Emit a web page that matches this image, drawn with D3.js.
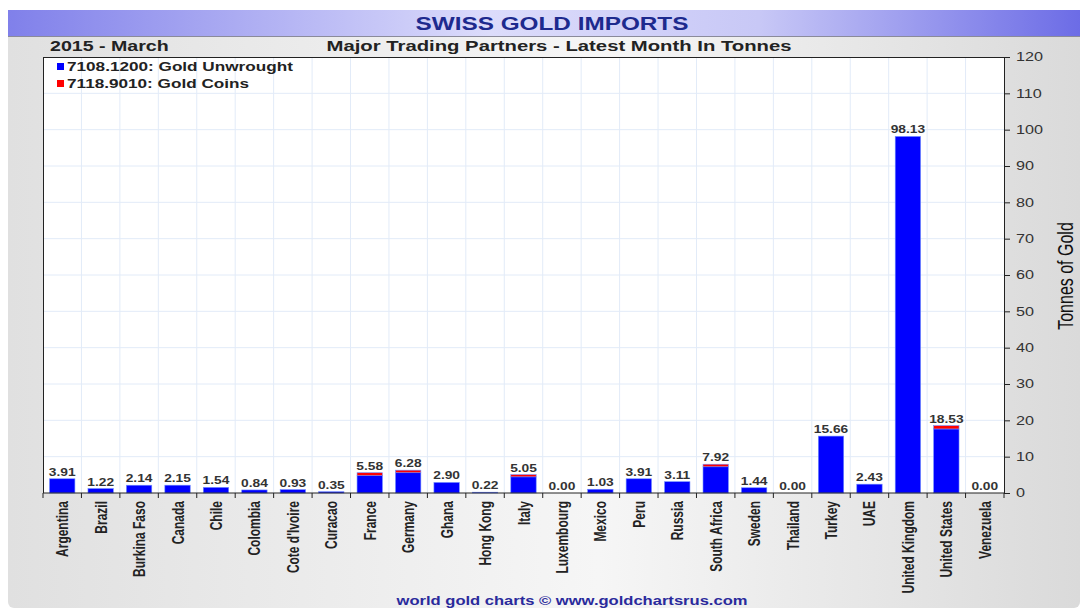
<!DOCTYPE html>
<html>
<head>
<meta charset="utf-8">
<script src="https://cdn.jsdelivr.net/npm/d3@7"></script>
<style>
  html, body { margin: 0; padding: 0; background: #fff; }
  svg { display: block; font-family: "Liberation Sans", Arial, sans-serif; }
</style>
</head>
<body>
<div id="chart"></div>
<script>
// values (tonnes)
const countries = ["Argentina", "Brazil", "Burkina Faso", "Canada", "Chile", "Colombia",
    "Cote d'Ivoire", "Curacao", "France", "Germany", "Ghana", "Hong Kong", "Italy",
    "Luxembourg", "Mexico", "Peru", "Russia", "South Africa", "Sweden", "Thailand",
    "Turkey", "UAE", "United Kingdom", "United States", "Venezuela"];
const totals = [3.91, 1.22, 2.14, 2.15, 1.54, 0.84, 0.93, 0.35, 5.58, 6.28, 2.90, 0.22, 5.05,
    0.00, 1.03, 3.91, 3.11, 7.92, 1.44, 0.00, 15.66, 2.43, 98.13, 18.53, 0.00];
const coins = [0, 0, 0, 0, 0, 0, 0, 0, 0.8, 0.7, 0, 0, 0.6,
    0, 0, 0, 0, 0.7, 0, 0, 0, 0, 0, 0.9, 0];
const yTicks = d3.range(0, 121, 10);
const seriesNames = ["7108.1200: Gold Unwrought", "7118.9010: Gold Coins"];
const seriesColors = ["#0000ff", "#ff0000"];

const W = 1080, H = 608;
const margin = { top: 57, right: 76, bottom: 115, left: 43 };
const sx = 1.4; // the original picture is stretched sideways

const svg = d3.select("#chart").append("svg")
    .attr("width", W)
    .attr("height", H);

const defs = svg.append("defs");
const bg = defs.append("linearGradient").attr("id", "bg");
bg.append("stop").attr("offset", "0%").attr("stop-color", "#e0e0e0");
bg.append("stop").attr("offset", "55%").attr("stop-color", "#f6f6f6");
bg.append("stop").attr("offset", "100%").attr("stop-color", "#dadada");

const band = defs.append("linearGradient").attr("id", "band");
band.append("stop").attr("offset", "0%").attr("stop-color", "#8080ea");
band.append("stop").attr("offset", "45%").attr("stop-color", "#dcdcfb");
band.append("stop").attr("offset", "70%").attr("stop-color", "#c8c8f6");
band.append("stop").attr("offset", "100%").attr("stop-color", "#6c6ce6");

svg.append("rect").attr("width", W).attr("height", H).attr("fill", "#ffffff");
svg.append("rect")
    .attr("x", 8).attr("y", 10)
    .attr("width", W - 8).attr("height", H - 10)
    .attr("rx", 6)
    .attr("fill", "url(#bg)");

// title band
svg.append("rect")
    .attr("x", 8).attr("y", 10)
    .attr("width", W - 8).attr("height", 26)
    .attr("fill", "url(#band)");
svg.append("line")
    .attr("x1", 8).attr("x2", W)
    .attr("y1", 36.5).attr("y2", 36.5)
    .attr("stroke", "#8a8a9a");

function wideText(parent, x, y, s) {
    return parent.append("text")
        .attr("transform", `translate(${x}, ${y}) scale(${s}, 1)`);
}

wideText(svg, 552, 30, 1.28)
    .attr("text-anchor", "middle")
    .attr("font-size", 19)
    .attr("font-weight", "bold")
    .attr("fill", "#1d2a8e")
    .text("SWISS GOLD IMPORTS");

wideText(svg, 50, 51, sx)
    .attr("font-size", 14)
    .attr("font-weight", "bold")
    .attr("fill", "#222")
    .text("2015 - March");

wideText(svg, 559, 51, 1.45)
    .attr("text-anchor", "middle")
    .attr("font-size", 14)
    .attr("font-weight", "bold")
    .attr("fill", "#222")
    .text("Major Trading Partners - Latest Month In Tonnes");

const width = W - margin.left - margin.right;
const height = H - margin.top - margin.bottom;

const x = d3.scaleBand()
    .domain(countries)
    .range([margin.left, margin.left + width])
    .paddingInner(0.34)
    .paddingOuter(0.17);

const y = d3.scaleLinear()
    .domain([0, 120])
    .range([margin.top + height, margin.top]);

// plot area
svg.append("rect")
    .attr("x", margin.left).attr("y", margin.top)
    .attr("width", width).attr("height", height)
    .attr("fill", "#ffffff");

const step = x.step();
const bounds = countries.map((d, i) => margin.left + i * step);

const grid = svg.append("g").attr("class", "grid");
grid.selectAll(".vgrid")
    .data(bounds.slice(1))
    .enter().append("line")
    .attr("class", "vgrid")
    .attr("x1", d => d).attr("x2", d => d)
    .attr("y1", margin.top).attr("y2", margin.top + height)
    .attr("stroke", "#e2ebf8");
grid.selectAll(".hgrid")
    .data(yTicks.slice(1, -1))
    .enter().append("line")
    .attr("class", "hgrid")
    .attr("x1", margin.left).attr("x2", margin.left + width)
    .attr("y1", d => y(d)).attr("y2", d => y(d))
    .attr("stroke", "#e2ebf8");

// frame
svg.append("line")
    .attr("x1", margin.left).attr("x2", margin.left + width)
    .attr("y1", margin.top + 0.5).attr("y2", margin.top + 0.5)
    .attr("stroke", "#222");
svg.append("line")
    .attr("x1", margin.left + 0.5).attr("x2", margin.left + 0.5)
    .attr("y1", margin.top).attr("y2", margin.top + height)
    .attr("stroke", "#222");

// stacked bars
const rows = countries.map((c, i) => ({
    country: c,
    unwrought: Math.max(0, totals[i] - coins[i]),
    coins: coins[i],
    total: totals[i]
}));
const stack = d3.stack().keys(["unwrought", "coins"])(rows);

svg.append("g").selectAll("g")
    .data(stack)
    .enter().append("g")
    .attr("fill", (d, i) => seriesColors[i])
    .selectAll("rect")
    .data(d => d.filter(s => s[1] - s[0] > 0))
    .enter().append("rect")
    .attr("x", d => x(d.data.country))
    .attr("width", x.bandwidth())
    .attr("y", d => y(d[1]))
    .attr("height", d => y(d[0]) - y(d[1]))
    .attr("stroke", "#6f8cff")
    .attr("stroke-width", 0.6);

// value labels
svg.append("g").selectAll("text")
    .data(rows)
    .enter().append("text")
    .attr("transform", d => `translate(${x(d.country) + x.bandwidth() / 2}, ${y(d.total) - 3}) scale(1.25, 1)`)
    .attr("text-anchor", "middle")
    .attr("font-size", 11)
    .attr("font-weight", "bold")
    .attr("fill", "#333")
    .text(d => d3.format(".2f")(d.total));

// x axis
const xAxis = svg.append("g")
    .attr("transform", `translate(0, ${margin.top + height})`);
xAxis.append("line")
    .attr("x1", margin.left).attr("x2", margin.left + width)
    .attr("stroke", "#222");
xAxis.selectAll(".xtick")
    .data(bounds.concat([margin.left + width]))
    .enter().append("line")
    .attr("class", "xtick")
    .attr("x1", d => d).attr("x2", d => d)
    .attr("y1", 0).attr("y2", 5)
    .attr("stroke", "#222");
xAxis.selectAll(".xlabel")
    .data(countries)
    .enter().append("text")
    .attr("class", "xlabel")
    .attr("transform", d => `translate(${x(d) + x.bandwidth() / 2 + 6}, 8) scale(${sx}, 1) rotate(-90)`)
    .attr("text-anchor", "end")
    .attr("font-size", 12)
    .attr("font-weight", "bold")
    .attr("fill", "#222")
    .text(d => d);

// y axis on the right
const yAxis = svg.append("g")
    .attr("transform", `translate(${margin.left + width}, 0)`)
    .call(d3.axisRight(y).tickValues(yTicks).tickSize(6).tickPadding(0));
yAxis.select(".domain").attr("stroke", "#222");
yAxis.selectAll(".tick line").attr("stroke", "#222");
yAxis.selectAll(".tick text")
    .attr("x", null)
    .attr("transform", `translate(12, 0) scale(1.35, 1)`)
    .attr("font-size", 12)
    .attr("font-family", "\"Liberation Sans\", Arial, sans-serif")
    .attr("fill", "#333");

svg.append("text")
    .attr("transform", `translate(1073, ${margin.top + height / 2 + 1}) scale(${sx}, 1) rotate(-90)`)
    .attr("text-anchor", "middle")
    .attr("font-size", 16)
    .attr("font-family", "\"Liberation Sans Narrow\", \"Liberation Sans\", sans-serif")
    .attr("fill", "#111")
    .text("Tonnes of Gold");

// legend
const legend = svg.append("g")
    .attr("transform", `translate(${margin.left + 14}, ${margin.top + 10})`);
const li = legend.selectAll("g")
    .data(seriesNames)
    .enter().append("g")
    .attr("transform", (d, i) => `translate(0, ${i * 17})`);
li.append("rect")
    .attr("x", 0).attr("y", -4)
    .attr("width", 7).attr("height", 7)
    .attr("fill", (d, i) => seriesColors[i]);
li.append("text")
    .attr("transform", `translate(10, 4) scale(1.43, 1)`)
    .attr("font-size", 12)
    .attr("font-weight", "bold")
    .attr("fill", "#222")
    .text(d => d);

// footer
wideText(svg, 572, 605, 1.38)
    .attr("text-anchor", "middle")
    .attr("font-size", 12)
    .attr("font-weight", "bold")
    .attr("fill", "#2a2a9c")
    .text("world gold charts \u00a9 www.goldchartsrus.com");
</script>
</body>
</html>
